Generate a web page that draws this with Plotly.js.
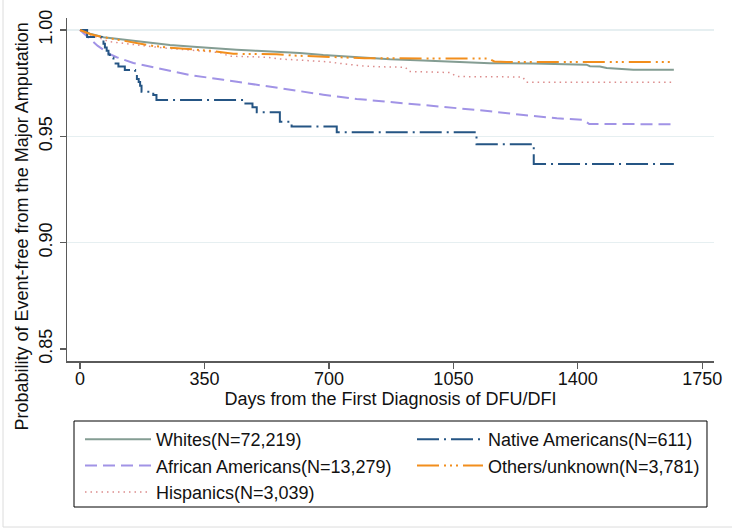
<!DOCTYPE html>
<html>
<head>
<meta charset="utf-8">
<script src="https://cdn.plot.ly/plotly-3.0.1.min.js"></script>
<style>
  html, body { margin: 0; padding: 0; background: #ffffff; }
  #chart { width: 732px; height: 532px; }
</style>
</head>
<body>
<div id="chart"></div>
<script>
// ---- Data ----
const xTickVals = [0, 350, 700, 1050, 1400, 1750];
const yTickVals = [0.85, 0.90, 0.95, 1.00];
const yGridVals = [0.90, 0.95, 1.00];

const seriesNames = [
  "Whites(N=72,219)",
  "African Americans(N=13,279)",
  "Hispanics(N=3,039)",
  "Native Americans(N=611)",
  "Others/unknown(N=3,781)"
];

const whitesDays = [0, 28, 66, 122, 159, 216, 253, 309, 347, 403, 440, 497, 534, 590, 618, 684, 778, 872, 965, 1059, 1153, 1274, 1368, 1424, 1434, 1462, 1481, 1556, 1670];
const whitesSurv = [1.0, 0.9983, 0.9966, 0.9955, 0.9945, 0.9937, 0.9930, 0.9922, 0.9917, 0.9910, 0.9907, 0.9902, 0.9899, 0.9894, 0.9892, 0.9882, 0.9871, 0.9862, 0.9856, 0.9850, 0.9844, 0.9842, 0.9839, 0.9837, 0.9830, 0.9828, 0.9821, 0.9813, 0.9813];

const afamDays = [0, 10, 28, 50, 84, 103, 150, 216, 309, 403, 497, 581, 684, 778, 872, 965, 1059, 1153, 1247, 1341, 1416, 1432, 1670];
const afamSurv = [1.0, 0.9985, 0.9958, 0.9925, 0.9887, 0.9872, 0.9845, 0.9820, 0.9788, 0.9766, 0.9742, 0.9721, 0.9696, 0.9676, 0.9662, 0.9646, 0.9633, 0.9618, 0.9600, 0.9585, 0.9577, 0.9558, 0.9557];

const hispDays = [0, 10, 28, 84, 159, 244, 309, 395, 420, 525, 560, 656, 700, 731, 800, 843, 915, 925, 1040, 1060, 1245, 1255, 1670];
const hispSurv = [1.0, 0.9990, 0.9977, 0.9945, 0.9930, 0.9914, 0.9906, 0.9893, 0.9877, 0.9872, 0.9864, 0.9856, 0.9850, 0.9843, 0.9830, 0.9827, 0.9825, 0.9805, 0.9800, 0.9781, 0.9779, 0.9754, 0.9754];

const nativeDays = [0, 20, 61, 66, 70, 75, 80, 84, 94, 108, 126, 155, 160, 165, 169, 173, 206, 215, 459, 485, 497, 562, 595, 722, 1115, 1276, 1670];
const nativeSurv = [1.0, 0.9967, 0.9951, 0.9935, 0.9918, 0.9902, 0.9885, 0.9869, 0.9843, 0.9828, 0.9812, 0.9790, 0.9770, 0.9755, 0.9738, 0.9710, 0.9694, 0.9671, 0.9654, 0.9637, 0.9613, 0.9569, 0.9546, 0.9519, 0.9463, 0.9370, 0.9370];

const otherDays = [0, 30, 60, 112, 141, 206, 253, 319, 375, 431, 553, 600, 684, 800, 1150, 1165, 1200, 1670];
const otherSurv = [1.0, 0.9980, 0.9968, 0.9953, 0.9942, 0.9925, 0.9917, 0.9908, 0.9901, 0.9888, 0.9886, 0.9880, 0.9876, 0.9867, 0.9866, 0.9852, 0.9850, 0.9850];

// ---- Styles ----
const FONT = "Liberation Sans, Arial, Helvetica, sans-serif";
const AXIS = "#5a5a5a";
const TXT = "#111111";

const traces = [
  { x: whitesDays, y: whitesSurv, name: seriesNames[0], legend: "legend",
    mode: "lines", line: { color: "#849d93", width: 2, shape: "linear" } },
  { x: afamDays, y: afamSurv, name: seriesNames[1], legend: "legend",
    mode: "lines", line: { color: "#a193e6", width: 2, dash: "12px,6px", shape: "linear" } },
  { x: hispDays, y: hispSurv, name: seriesNames[2], legend: "legend",
    mode: "lines", line: { color: "#dc8c8c", width: 1.5, dash: "1.5px,4px", shape: "linear" } },
  { x: nativeDays, y: nativeSurv, name: seriesNames[3], legend: "legend2",
    mode: "lines", line: { color: "#255584", width: 2, dash: "22px,5px,2px,5px", shape: "hv" } },
  { x: otherDays, y: otherSurv, name: seriesNames[4], legend: "legend2",
    mode: "lines", line: { color: "#f28e1c", width: 2, dash: "22px,5px,2px,4px,2px,4px,2px,5px", shape: "linear" } }
];

const legendCommon = {
  orientation: "v",
  xanchor: "left", yanchor: "top",
  itemwidth: 66,
  font: { family: FONT, size: 18, color: TXT },
  bgcolor: "rgba(0,0,0,0)", borderwidth: 0,
  traceorder: "normal", tracegroupgap: 0
};

const layout = {
  width: 732, height: 532,
  margin: { l: 67, r: 18, t: 18, b: 171, pad: 0 },
  paper_bgcolor: "#ffffff", plot_bgcolor: "#ffffff",
  font: { family: FONT, size: 18, color: TXT },
  showlegend: true,
  xaxis: {
    range: [-36.6, 1782.9],
    tickmode: "array", tickvals: xTickVals,
    ticks: "outside", ticklen: 6, tickwidth: 1.2, tickcolor: AXIS,
    ticklabelstandoff: -5,
    showline: true, linecolor: AXIS, linewidth: 1.5,
    showgrid: false, zeroline: false,
    tickfont: { size: 18, color: TXT },
    title: { text: "Days from the First Diagnosis of DFU/DFI", font: { size: 18, color: TXT }, standoff: 0 }
  },
  yaxis: {
    range: [0.84436, 1.00564],
    tickmode: "array", tickvals: yTickVals, tickformat: ".2f",
    tickangle: -90,
    ticks: "outside", ticklen: 6, tickwidth: 1.2, tickcolor: AXIS,
    showline: true, linecolor: AXIS, linewidth: 1.5,
    showgrid: false, zeroline: false,
    tickfont: { size: 18, color: TXT },
    minor: { tickmode: "array", tickvals: yGridVals, showgrid: true, gridcolor: "#e6eff1", gridwidth: 1.6, ticks: "" }
  },
  legend: Object.assign({}, legendCommon, { x: (80 - 67) / 647, y: -0.17493 }),
  legend2: Object.assign({}, legendCommon, { x: (412 - 67) / 647, y: -0.17493 }),
  annotations: [
    { text: "Probability of Event-free from the Major Amputation",
      xref: "paper", yref: "paper", x: -0.0688, y: 0.3936,
      xanchor: "center", yanchor: "middle", textangle: -90, showarrow: false,
      font: { family: FONT, size: 18, color: TXT } }
  ],
  shapes: [
    { type: "rect", xref: "paper", yref: "paper",
      x0: 0.01082, x1: 0.98918, y0: -0.42566, y1: -0.17493,
      line: { color: "#000000", width: 1 }, fillcolor: "rgba(0,0,0,0)" },
    { type: "rect", xref: "paper", yref: "paper",
      x0: -0.0989, x1: 1.06, y0: -0.484, y1: 1.08,
      line: { color: "#dcdcdc", width: 1 }, fillcolor: "rgba(0,0,0,0)" }
  ]
};

Plotly.newPlot("chart", traces, layout, { displayModeBar: false, staticPlot: true });
</script>
</body>
</html>
